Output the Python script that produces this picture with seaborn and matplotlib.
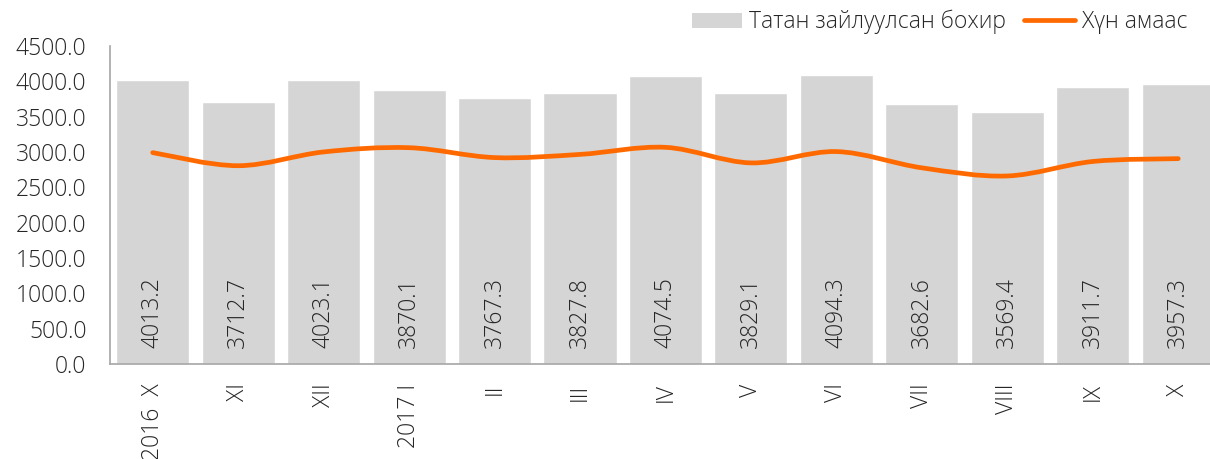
import matplotlib
matplotlib.use("Agg")
import numpy as np
import pandas as pd
import matplotlib.pyplot as plt
from matplotlib.path import Path
from matplotlib.patches import PathPatch, Patch
from matplotlib.lines import Line2D
import seaborn as sns

# ── Data ──────────────────────────────────────────────────────────────────────
months = ["2016  X", "XI", "XII", "2017 I", "II", "III", "IV", "V", "VI",
          "VII", "VIII", "IX", "X"]
collected = [4013.2, 3712.7, 4023.1, 3870.1, 3767.3, 3827.8, 4074.5,
             3829.1, 4094.3, 3682.6, 3569.4, 3911.7, 3957.3]
population = [2990, 2805, 3000, 3060, 2920, 2965, 3065, 2845, 3005,
              2775, 2660, 2865, 2905]

bar_name = "Татан зайлуулсан бохир"
line_name = "Хүн амаас"

BAR_COLOR = "#D5D5D5"
LINE_COLOR = "#FF6A00"
AXIS_COLOR = "#A6A6A6"
TEXT_COLOR = "#262626"
FS = 16.5

sns.set_style("white")
plt.rcParams["font.family"] = ["Open Sans", "DejaVu Sans"]
plt.rcParams["font.weight"] = "light"

df = pd.DataFrame({"month": months, "collected": collected,
                   "population": population})

fig = plt.figure(figsize=(12.1, 4.59), dpi=100)
ax = fig.add_axes([0.0909, 0.207, 0.909, 0.693])

sns.barplot(data=df, x="month", y="collected", color=BAR_COLOR,
            saturation=1, width=0.855, ax=ax)

# value labels inside bars, rotated
for i, v in enumerate(collected):
    ax.text(i, 230, f"{v:.1f}", rotation=90, ha="center", va="bottom",
            fontsize=FS, color=TEXT_COLOR)

# smoothed line (Catmull-Rom style, like Excel's smoothed line)
xs = np.arange(len(population), dtype=float)
ys = np.asarray(population, dtype=float)
pts = np.column_stack([xs, ys])
verts = [pts[0]]
codes = [Path.MOVETO]
n = len(pts)
for i in range(n - 1):
    p0 = pts[i - 1] if i > 0 else pts[i]
    p1 = pts[i]
    p2 = pts[i + 1]
    p3 = pts[i + 2] if i + 2 < n else pts[i + 1]
    c1 = p1 + (p2 - p0) / 6
    c2 = p2 - (p3 - p1) / 6
    verts += [c1, c2, p2]
    codes += [Path.CURVE4] * 3
ax.add_patch(PathPatch(Path(verts, codes), facecolor="none",
                       edgecolor=LINE_COLOR, lw=3.4, capstyle="round",
                       zorder=4))

# axes styling
ax.set_yticks(np.arange(0, 4501, 500))
ax.set_yticklabels([f"{t:.1f}" for t in np.arange(0, 4501, 500)],
                   fontsize=FS, color=TEXT_COLOR)
ax.set_xticks(np.arange(len(months)))
ax.set_xticklabels(months, rotation=90, fontsize=FS, color=TEXT_COLOR,
                   va="top")
ax.tick_params(axis="x", length=0, pad=14)
ax.tick_params(axis="y", length=7, width=1, color=AXIS_COLOR, pad=10)
ax.set_xticks(np.arange(-0.5, len(months), 1), minor=True)
ax.tick_params(axis="x", which="minor", length=7, width=1, color=AXIS_COLOR,
               direction="out")
# limits last, set_xticks would widen them otherwise
ax.set_ylim(0, 4500)
ax.set_xlim(-0.5, 12.37)
ax.set_xlabel("")
ax.set_ylabel("")
for side in ["top", "right"]:
    ax.spines[side].set_visible(False)
for side in ["left", "bottom"]:
    ax.spines[side].set_color(AXIS_COLOR)
    ax.spines[side].set_linewidth(1.2)

handles = [Patch(facecolor=BAR_COLOR, edgecolor="none"),
           Line2D([0], [0], color=LINE_COLOR, lw=3.4)]
fig.legend(handles, [bar_name, line_name], loc="center right",
           bbox_to_anchor=(0.981, 0.952), ncol=2, frameon=False,
           borderaxespad=0, borderpad=0,
           fontsize=FS, handlelength=2.2, handleheight=0.65,
           handletextpad=0.3, columnspacing=0.8, labelcolor=TEXT_COLOR)

fig.savefig("out.png", dpi=100)
